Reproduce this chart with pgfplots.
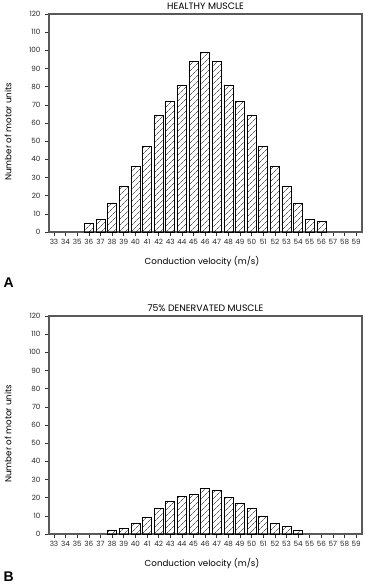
\documentclass[border=0pt]{standalone}
\usepackage{pgfplots}
\pgfplotsset{compat=1.18}
\usetikzlibrary{patterns.meta}
\usepackage{fontspec}
\setmainfont{Poppins}
\newfontfamily\arialb{Liberation Sans}[BoldFont={Liberation Sans Bold}]
\pgfplotsset{mystyle/.style={
  scale only axis, width=313pt, height=218pt,
  xmin=32.57, xmax=59.5, ymin=0, ymax=120,
  xtick={33,...,59}, ytick={0,10,...,120},
  tick align=outside, tick pos=left, major tick length=4pt,
  tick style={black!80, line width=0.5pt},
  tick label style={font=\fontsize{7.2}{8}\selectfont, black!85},
  yticklabel style={xshift=-1pt},
  /pgf/number format/assume math mode=true,
  axis line style={line width=1.1pt, black!65},
  ylabel={Number of motor units}, xlabel={Conduction velocity (m/s)},
  label style={font=\fontsize{8.7}{10}\selectfont},
  title style={font=\fontsize{9.3}{10}\selectfont, yshift=-5pt},
  ylabel style={at={(rel axis cs:0,0.46)}, anchor=center, yshift=41pt},
  xlabel style={at={(rel axis cs:0.489,0)}, anchor=center, yshift=-29.5pt},
  ybar, bar width=9pt,
  clip=false,
}}
\begin{document}
\begin{tikzpicture}
\useasboundingbox (0pt,-588pt) rectangle (364pt,0pt);
\begin{axis}[mystyle, at={(49pt,-232pt)}, anchor=south west, title={HEALTHY MUSCLE}]
\addplot[draw=black, line width=0.6pt, pattern={Lines[angle=45,distance=4pt,line width=0.4pt]}] coordinates {
(36,5) (37,7) (38,16) (39,25) (40,36) (41,47) (42,64) (43,72) (44,81) (45,94)
(46,99) (47,94) (48,81) (49,72) (50,64) (51,47) (52,36) (53,25) (54,16) (55,7) (56,6)};
\end{axis}
\begin{axis}[mystyle, at={(49pt,-534pt)}, anchor=south west, title={75\% DENERVATED MUSCLE}]
\addplot[draw=black, line width=0.6pt, pattern={Lines[angle=45,distance=4pt,line width=0.4pt]}] coordinates {
(38,2) (39,3) (40,6) (41,9) (42,14) (43,18) (44,21) (45,22) (46,25) (47,24)
(48,20) (49,17) (50,14) (51,10) (52,6) (53,4) (54,2)};
\end{axis}
\node[font=\arialb\bfseries\fontsize{14}{14}\selectfont, anchor=west] at (0pt,-283pt) {A};
\node[font=\arialb\bfseries\fontsize{14}{14}\selectfont, anchor=west] at (0pt,-577pt) {B};
\end{tikzpicture}
\end{document}
